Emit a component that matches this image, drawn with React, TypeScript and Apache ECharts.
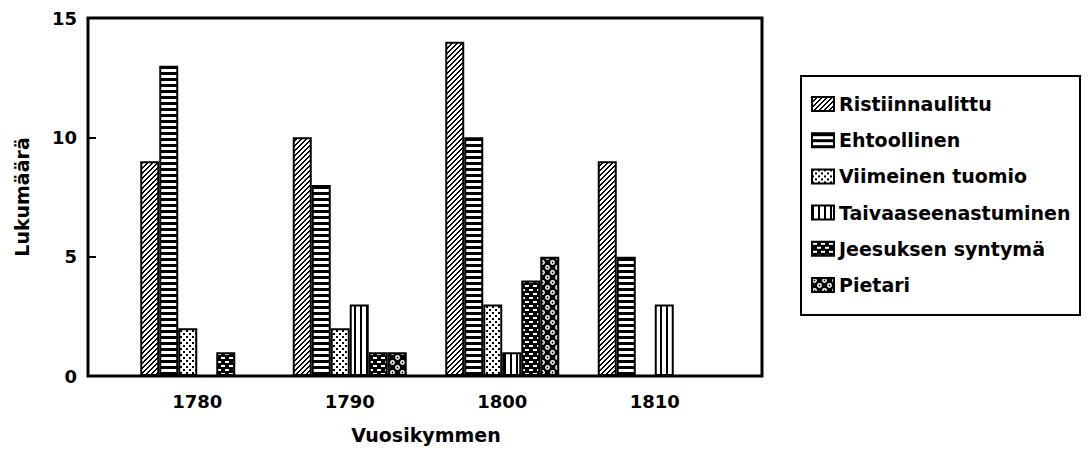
import React, { useEffect, useRef } from "react";
import * as echarts from "echarts";

const categories = ["1780", "1790", "1800", "1810"];
const seriesNames = [
  "Ristiinnaulittu",
  "Ehtoollinen",
  "Viimeinen tuomio",
  "Taivaaseenastuminen",
  "Jeesuksen syntymä",
  "Pietari",
];
const ristiinnaulittu = [9, 10, 14, 9];
const ehtoollinen = [13, 8, 10, 5];
const viimeinenTuomio = [2, 2, 3, 0];
const taivaaseenastuminen = [0, 3, 1, 3];
const jeesuksenSyntyma = [1, 1, 4, 0];
const pietari = [0, 1, 5, 0];
const yTicks = [0, 5, 10, 15];

const FONT = "DejaVu Sans";

type Draw = (ctx: CanvasRenderingContext2D) => void;

function makeTile(w: number, h: number, bg: string, draw: Draw) {
  const c = document.createElement("canvas");
  c.width = w;
  c.height = h;
  const ctx = c.getContext("2d") as CanvasRenderingContext2D;
  ctx.fillStyle = bg;
  ctx.fillRect(0, 0, w, h);
  draw(ctx);
  return { image: c.toDataURL(), repeat: "repeat", imageWidth: w, imageHeight: h };
}

function buildPatterns() {
  const diag = makeTile(5, 5, "#fff", (ctx) => {
    ctx.fillStyle = "#000";
    for (let x = 0; x < 5; x++) {
      const y = 4 - x;
      ctx.fillRect(x, y, 1, 1);
      ctx.fillRect(x, (y + 1) % 5, 1, 1);
    }
  });
  const horiz = makeTile(4, 6, "#fff", (ctx) => {
    ctx.fillStyle = "#000";
    ctx.fillRect(0, 0, 4, 3);
  });
  const dots = makeTile(6, 6, "#fff", (ctx) => {
    ctx.fillStyle = "#000";
    ctx.fillRect(0, 0, 2, 2);
    ctx.fillRect(3, 3, 2, 2);
  });
  const vert = makeTile(6, 4, "#fff", (ctx) => {
    ctx.fillStyle = "#000";
    ctx.fillRect(0, 0, 2, 4);
  });
  const brick = makeTile(8, 8, "#000", (ctx) => {
    ctx.fillStyle = "#fff";
    ctx.fillRect(1, 1, 4, 2);
    ctx.fillRect(5, 5, 3, 2);
    ctx.fillRect(0, 5, 1, 2);
  });
  const circles = makeTile(10, 10, "#000", (ctx) => {
    const pts = [
      [2.5, 2.5],
      [7.5, 7.5],
    ];
    for (const [x, y] of pts) {
      ctx.fillStyle = "#fff";
      ctx.beginPath();
      ctx.arc(x, y, 2.4, 0, Math.PI * 2);
      ctx.fill();
      ctx.fillStyle = "#000";
      ctx.beginPath();
      ctx.arc(x, y, 0.9, 0, Math.PI * 2);
      ctx.fill();
    }
  });
  return [diag, horiz, dots, vert, brick, circles];
}

export default function App() {
  const ref = useRef<HTMLDivElement>(null);

  useEffect(() => {
    if (!ref.current) return;
    const chart = echarts.init(ref.current, undefined, { renderer: "svg" });
    const patterns = buildPatterns();
    const values = [
      ristiinnaulittu,
      ehtoollinen,
      viimeinenTuomio,
      taivaaseenastuminen,
      jeesuksenSyntyma,
      pietari,
    ];

    const tickText = { fontFamily: FONT, color: "#000", fontSize: 18, fontWeight: "bold" as const };
    const nameText = { fontFamily: FONT, color: "#000", fontSize: 19, fontWeight: "bold" as const };

    chart.setOption({
      animation: false,
      backgroundColor: "#fff",
      grid: [
        {
          left: 88,
          top: 18,
          width: 674,
          height: 358,
          show: true,
          borderColor: "#000",
          borderWidth: 3,
          backgroundColor: "transparent",
        },
        {
          left: 121,
          top: 18,
          width: 610,
          height: 358,
        },
      ],
      xAxis: [
        { gridIndex: 0, type: "value", show: false, min: 0, max: 1 },
        {
          gridIndex: 1,
          type: "category",
          data: categories,
          axisLine: { show: false },
          axisTick: { show: false },
          axisLabel: { ...tickText, margin: 16 },
          name: "Vuosikymmen",
          nameLocation: "middle",
          nameGap: 49,
          nameTextStyle: { ...nameText },
        },
      ],
      yAxis: [
        {
          gridIndex: 0,
          type: "value",
          min: yTicks[0],
          max: yTicks[yTicks.length - 1],
          interval: 5,
          axisLine: { show: false },
          axisTick: {
            show: true,
            inside: true,
            length: 8,
            lineStyle: { color: "#000", width: 2 },
          },
          splitLine: { show: false },
          axisLabel: { ...tickText, margin: 11 },
          name: "Lukumäärä",
          nameLocation: "middle",
          nameGap: 57,
          nameRotate: 90,
          nameTextStyle: { ...nameText },
        },
        {
          gridIndex: 1,
          type: "value",
          min: yTicks[0],
          max: yTicks[yTicks.length - 1],
          show: false,
        },
      ],
      legend: {
        orient: "vertical",
        left: 811,
        top: 94,
        padding: 0,
        itemWidth: 22,
        itemHeight: 14,
        itemGap: 16.2,
        selectedMode: false,
        icon: "rect",
        data: seriesNames,
        itemStyle: { borderColor: "#000", borderWidth: 2 },
        textStyle: {
          fontFamily: FONT,
          fontSize: 19,
          fontWeight: "bold",
          lineHeight: 20,
          color: "#000",
        },
      },
      graphic: [
        {
          type: "rect",
          shape: { x: 801, y: 76, width: 279, height: 239 },
          style: { fill: "none", stroke: "#000", lineWidth: 2 },
          silent: true,
        },
      ],
      series: seriesNames.map((name, i) => ({
        name,
        type: "bar",
        xAxisIndex: 1,
        yAxisIndex: 1,
        data: values[i],
        barWidth: 19,
        barGap: "0%",
        itemStyle: {
          color: patterns[i],
          borderColor: "#000",
          borderWidth: 2,
        },
      })),
    });

    return () => chart.dispose();
  }, []);

  return (
    <div
      ref={ref}
      style={{ position: "fixed", left: 0, top: 0, width: 1088, height: 452 }}
    />
  );
}
